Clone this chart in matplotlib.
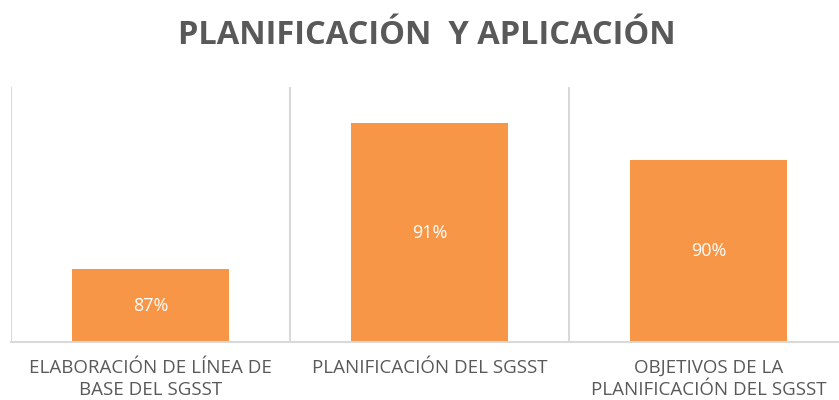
import matplotlib
matplotlib.use("Agg")
from matplotlib import pyplot as plt

categories = ["ELABORACIÓN DE LÍNEA DE\nBASE DEL SGSST",
              "PLANIFICACIÓN DEL SGSST",
              "OBJETIVOS DE LA\nPLANIFICACIÓN DEL SGSST"]
values = [87, 91, 90]
value_labels = ["87%", "91%", "90%"]
title = "PLANIFICACIÓN  Y APLICACIÓN"

fig = plt.figure(figsize=(8.39, 4), dpi=100)
ax = fig.add_axes([11 / 839, 0.145, 837 / 839, 0.6375])

x = list(range(len(categories)))
ax.bar(x, values, width=0.56, color="#F79646", bottom=0)
ax.set_ylim(85, 92)
ax.set_xlim(-0.5, 2.5)

# labels in the middle of each bar
for xi, v, lab in zip(x, values, value_labels):
    ax.text(xi, (85 + v) / 2, lab, ha="center", va="center",
            color="white", fontsize=13, family="Open Sans")

# category separators
for b in [-0.5, 0.5, 1.5, 2.5]:
    ax.axvline(b, color="#d9d9d9", lw=1.5, zorder=0)

for s in ["top", "right", "left"]:
    ax.spines[s].set_visible(False)
ax.spines["bottom"].set_color("#d9d9d9")
ax.spines["bottom"].set_linewidth(1.5)
ax.set_yticks([])
ax.set_xticks(x)
ax.set_xticklabels(categories, fontsize=13.5, color="#595959", family="Open Sans",
                   linespacing=1.3)
ax.tick_params(axis="x", length=0, pad=12)

fig.text(0.509, 0.91, title, ha="center", va="center", fontsize=23.5,
         fontweight="bold", color="#595959", family="Open Sans")

fig.savefig("out.png")
